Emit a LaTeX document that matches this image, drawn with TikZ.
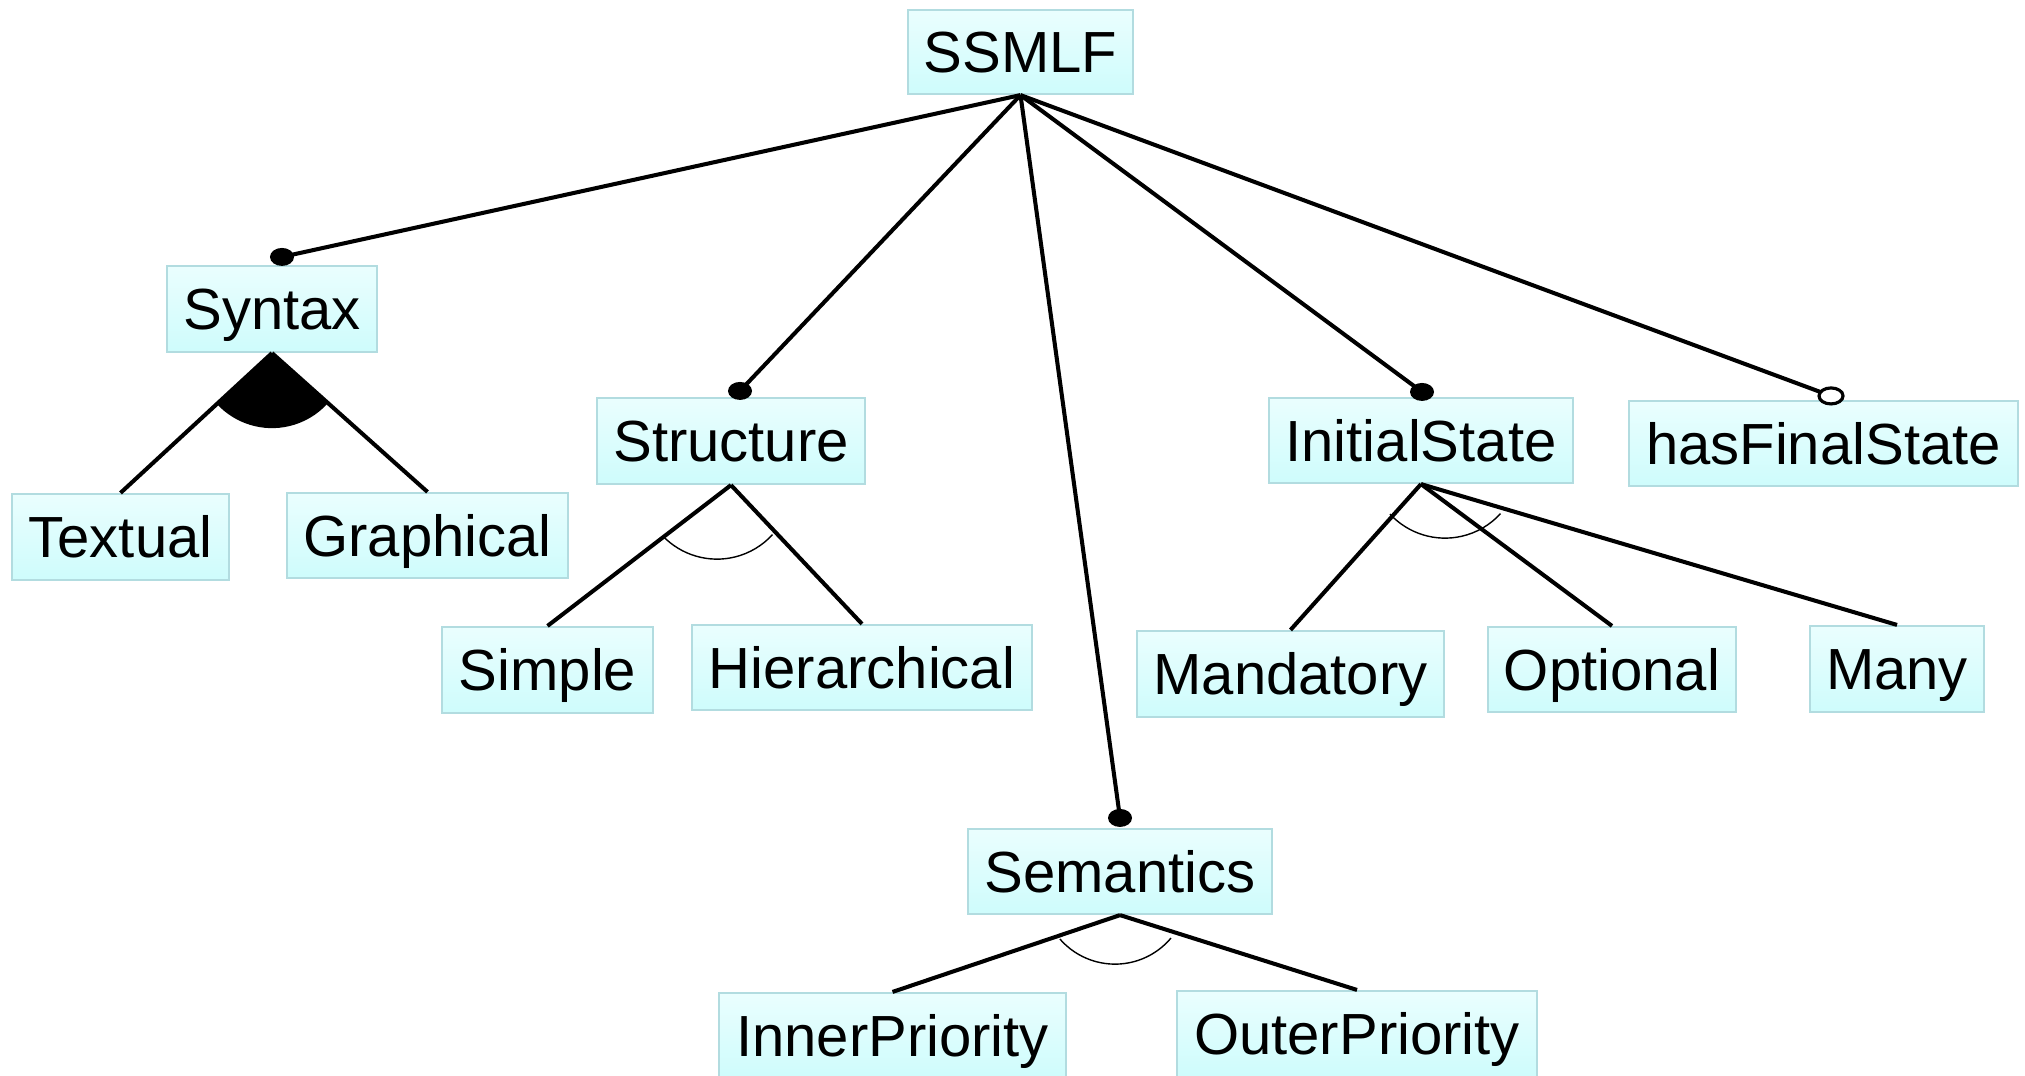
\documentclass[tikz,border=0pt]{standalone}
\usepackage{fontspec}
\setmainfont{Liberation Sans}
\usetikzlibrary{calc}
\definecolor{boxtop}{RGB}{234,254,254}
\definecolor{boxbot}{RGB}{206,252,252}
\definecolor{boxline}{RGB}{178,220,224}
\tikzset{
  feat/.style={draw=boxline, line width=0.6pt, top color=boxtop, bottom color=boxbot,
    inner sep=0pt, text height=11.8pt, text depth=0pt,
    font=\fontsize{16.5pt}{19pt}\selectfont},
  edge/.style={line width=1.15pt},
  grouparc/.style={line width=0.4pt},
  mandot/.style={fill=black},
  optdot/.style={draw=black, fill=white, line width=0.9pt},
}
\begin{document}
\begin{tikzpicture}[x=0.01cm,y=-0.01cm]
\useasboundingbox (0,0) rectangle (2025,1075);
\clip (0,0) rectangle (2025,1075);

% feature boxes
\node[feat, minimum width=2.25cm, minimum height=0.84cm] (ssmlf) at (1020.5,52) {SSMLF};
\node[feat, minimum width=2.10cm, minimum height=0.86cm] (syntax) at (272,309) {Syntax};
\node[feat, minimum width=2.17cm, minimum height=0.86cm] (textual) at (120.5,537) {Textual};
\node[feat, minimum width=2.81cm, minimum height=0.85cm] (graphical) at (427.5,535.5) {Graphical};
\node[feat, minimum width=2.68cm, minimum height=0.86cm] (structure) at (731,441) {Structure};
\node[feat, minimum width=2.11cm, minimum height=0.86cm] (simple) at (547.5,670) {Simple};
\node[feat, minimum width=3.40cm, minimum height=0.85cm] (hier) at (862,667.5) {Hierarchical};
\node[feat, minimum width=3.04cm, minimum height=0.85cm] (semantics) at (1120,871.5) {Semantics};
\node[feat, minimum width=3.47cm, minimum height=0.86cm] (inner) at (892.5,1036) {InnerPriority};
\node[feat, minimum width=3.60cm, minimum height=0.86cm] (outer) at (1357,1034) {OuterPriority};
\node[feat, minimum width=3.04cm, minimum height=0.85cm] (init) at (1421,440.5) {InitialState};
\node[feat, minimum width=3.89cm, minimum height=0.85cm] (final) at (1823.5,443.5) {hasFinalState};
\node[feat, minimum width=3.07cm, minimum height=0.86cm] (mandatory) at (1290.5,674) {Mandatory};
\node[feat, minimum width=2.48cm, minimum height=0.85cm] (optional) at (1612,669.5) {Optional};
\node[feat, minimum width=1.74cm, minimum height=0.86cm] (many) at (1897,669) {Many};

% end points of the sub-feature connectors on the box tops
\coordinate (dsyntax) at ($(syntax.north)+(10,-8)$);
\coordinate (dstructure) at ($(structure.north)+(9,-6)$);
\coordinate (dsemantics) at ($(semantics.north)+(0,-10)$);
\coordinate (dinit) at ($(init.north)+(1,-5)$);
\coordinate (dfinal) at ($(final.north)+(7.5,-4)$);

% root connectors
\draw[edge] (ssmlf.south) -- (dsyntax);
\draw[edge] (ssmlf.south) -- (dstructure);
\draw[edge] (ssmlf.south) -- (dsemantics);
\draw[edge] (ssmlf.south) -- (dinit);
\draw[edge] (ssmlf.south) -- (dfinal);

% mandatory / optional markers
\fill[mandot] (dsyntax) ellipse [x radius=0.12cm, y radius=0.09cm];
\fill[mandot] (dstructure) ellipse [x radius=0.12cm, y radius=0.09cm];
\fill[mandot] (dsemantics) ellipse [x radius=0.12cm, y radius=0.09cm];
\fill[mandot] (dinit) ellipse [x radius=0.12cm, y radius=0.09cm];
\draw[optdot] (dfinal) ellipse [x radius=0.12cm, y radius=0.08cm];

% Syntax: alternative group
\fill (syntax.south) -- ++(223:0.75cm) arc[start angle=223, end angle=317.5, radius=0.75cm] -- cycle;
\draw[edge] (syntax.south) -- (textual.north);
\draw[edge] (syntax.south) -- (graphical.north);

% Structure: or group
\draw[edge] (structure.south) -- (simple.north);
\draw[edge] (structure.south) -- (hier.north);
\draw[grouparc] ($(structure.south)+(-14,-1)$) ++(223.9:0.75cm) arc[start angle=223.9, end angle=317.7, radius=0.75cm];

% Semantics: or group
\draw[edge] (semantics.south) -- (inner.north);
\draw[edge] (semantics.south) -- (outer.north);
\draw[grouparc] ($(semantics.south)+(-5,-24)$) ++(221:0.73cm) arc[start angle=221, end angle=320, radius=0.73cm];

% InitialState: or group
\draw[edge] (init.south) -- (mandatory.north);
\draw[edge] (init.south) -- (optional.north);
\draw[edge] (init.south) -- (many.north);
\draw[grouparc] ($(init.south)+(24,-21)$) ++(222.8:0.75cm) arc[start angle=222.8, end angle=317.7, radius=0.75cm];
\end{tikzpicture}
\end{document}
